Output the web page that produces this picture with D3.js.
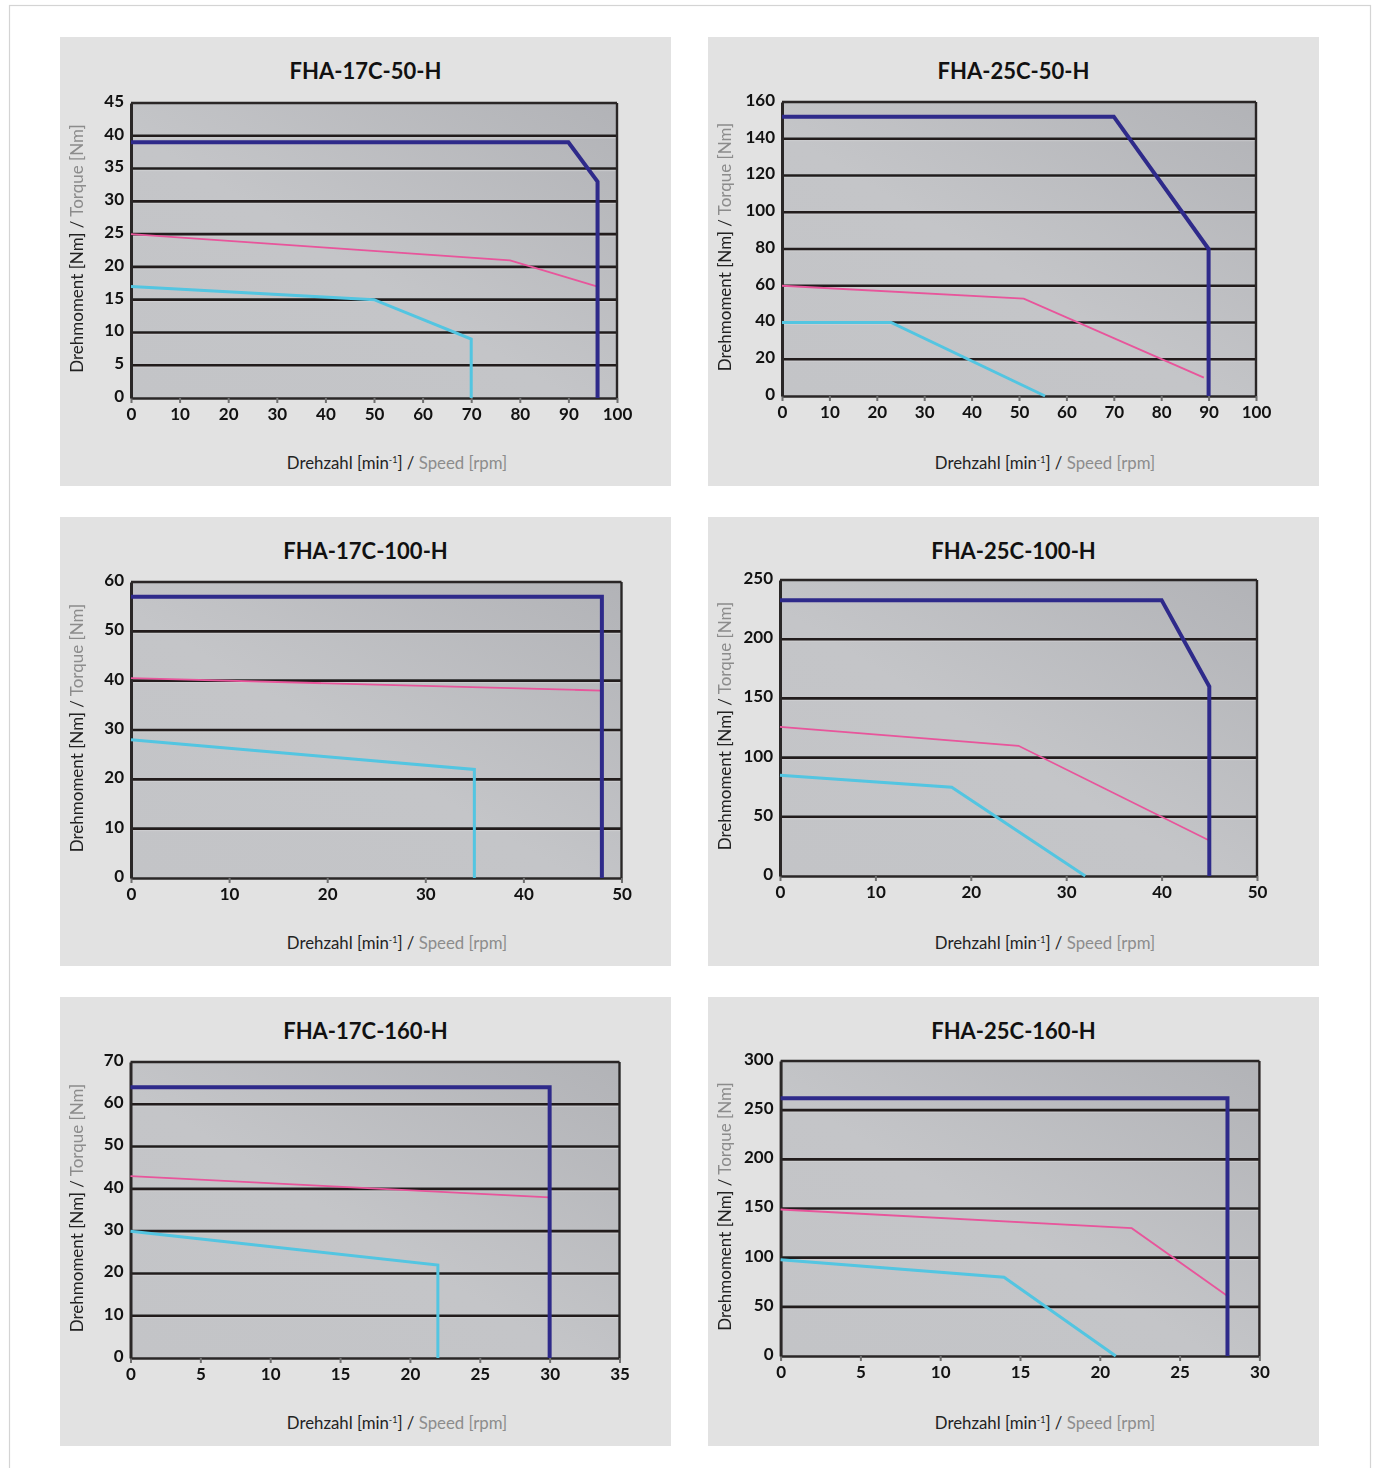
<!DOCTYPE html>
<html>
<head>
<meta charset="utf-8">
<script src="https://cdn.jsdelivr.net/npm/d3@7"></script>
<style>
  body { margin: 0; background: #fff; }
  svg { display: block; }
  text { font-family: Lato, "Noto Sans", sans-serif; }
</style>
</head>
<body>
<svg id="chart" width="1373" height="1468"></svg>
<script>
// Torque / speed characteristics of FHA-C actuators (speed in rpm, torque in Nm)
const titles = ["FHA-17C-50-H", "FHA-25C-50-H", "FHA-17C-100-H", "FHA-25C-100-H", "FHA-17C-160-H", "FHA-25C-160-H"];

const xTickValues = [
  [0, 10, 20, 30, 40, 50, 60, 70, 80, 90, 100],
  [0, 10, 20, 30, 40, 50, 60, 70, 80, 90, 100],
  [0, 10, 20, 30, 40, 50],
  [0, 10, 20, 30, 40, 50],
  [0, 5, 10, 15, 20, 25, 30, 35],
  [0, 5, 10, 15, 20, 25, 30]
];

const yTickValues = [
  [0, 5, 10, 15, 20, 25, 30, 35, 40, 45],
  [0, 20, 40, 60, 80, 100, 120, 140, 160],
  [0, 10, 20, 30, 40, 50, 60],
  [0, 50, 100, 150, 200, 250],
  [0, 10, 20, 30, 40, 50, 60, 70],
  [0, 50, 100, 150, 200, 250, 300]
];

// acceleration / deceleration range (peak torque)
const peakCurves = [
  [[0, 39], [90, 39], [96, 33], [96, 0]],
  [[0, 152], [70, 152], [90, 80], [90, 0]],
  [[0, 57], [48, 57], [48, 0]],
  [[0, 233], [40, 233], [45, 160], [45, 0]],
  [[0, 64], [30, 64], [30, 0]],
  [[0, 262], [28, 262], [28, 0]]
];

// intermittent duty range
const intermittentCurves = [
  [[0, 25], [78, 21], [96, 17]],
  [[0, 60], [51, 53], [89, 10]],
  [[0, 40.5], [48, 38]],
  [[0, 126], [25, 110], [45, 30]],
  [[0, 43], [30, 38]],
  [[0, 149], [22, 130], [28, 61]]
];

// continuous duty range
const continuousCurves = [
  [[0, 17], [50, 15], [70, 9], [70, 0]],
  [[0, 40], [23, 40], [55.5, 0]],
  [[0, 28], [35, 22], [35, 0]],
  [[0, 85], [18, 75], [32, 0]],
  [[0, 30], [22, 22], [22, 0]],
  [[0, 98], [14, 80], [21, 0]]
];

// ---- layout ----
const panelW = 611, panelH = 449;
const panelX = [60, 708];
const panelY = [37, 517, 997];
// plot rectangle inside each panel: [left, top, right, bottom]
const plotBoxes = [
  [71, 66, 557, 361],
  [74, 65, 548, 359],
  [71, 65, 561.5, 361],
  [72, 63, 549, 359],
  [70.5, 65, 559.5, 361],
  [72.6, 64, 551.4, 359]
];

const svg = d3.select("#chart");

// page frame
svg.append("rect")
  .attr("x", 9.5).attr("y", 5.5)
  .attr("width", 1361).attr("height", 1480)
  .attr("fill", "none").attr("stroke", "#d4d4d4").attr("stroke-width", 1.2);

const defs = svg.append("defs");
const grad = defs.append("linearGradient")
  .attr("id", "plotBg")
  .attr("x1", "100%").attr("y1", "0%")
  .attr("x2", "0%").attr("y2", "100%");
grad.append("stop").attr("offset", "0%").attr("stop-color", "#b2b3b7");
grad.append("stop").attr("offset", "55%").attr("stop-color", "#c4c5c8");
grad.append("stop").attr("offset", "100%").attr("stop-color", "#c3c4c7");

const soft = defs.append("filter").attr("id", "soft")
  .attr("x", "-5%").attr("y", "-5%").attr("width", "110%").attr("height", "110%");
soft.append("feGaussianBlur").attr("stdDeviation", 0.45);

titles.forEach((title, i) => {
  const px = panelX[i % 2], py = panelY[Math.floor(i / 2)];
  const [l, t, r, b] = plotBoxes[i];
  const xt = xTickValues[i], yt = yTickValues[i];

  const g = svg.append("g").attr("transform", `translate(${px},${py})`);
  g.append("rect").attr("width", panelW).attr("height", panelH).attr("fill", "#e2e2e2");

  const x = d3.scaleLinear().domain([0, d3.max(xt)]).range([l, r]);
  const y = d3.scaleLinear().domain([0, d3.max(yt)]).range([b, t]);

  // title
  g.append("text")
    .attr("x", panelW / 2).attr("y", 42)
    .attr("text-anchor", "middle")
    .attr("font-size", 22).attr("font-weight", 700).attr("fill", "#111")
    .text(title);

  // plot area
  g.append("rect")
    .attr("x", l).attr("y", t).attr("width", r - l).attr("height", b - t)
    .attr("fill", "url(#plotBg)");

  // horizontal grid lines
  const grid = g.append("g").attr("filter", "url(#soft)");
  grid.selectAll("line.hi")
    .data(yt.slice(1, -1))
    .join("line")
    .attr("x1", l).attr("x2", r)
    .attr("y1", d => y(d) + 2).attr("y2", d => y(d) + 2)
    .attr("stroke", "#d2d2d4").attr("stroke-width", 1.2).attr("opacity", 0.6);
  grid.selectAll("line.gl")
    .data(yt.slice(1, -1))
    .join("line")
    .attr("x1", l).attr("x2", r)
    .attr("y1", d => y(d)).attr("y2", d => y(d))
    .attr("stroke", "#241f1f").attr("stroke-width", 2.6);

  // frame: top and right border
  const frame = g.append("g").attr("filter", "url(#soft)");
  frame.append("line").attr("x1", l).attr("x2", r).attr("y1", t).attr("y2", t)
    .attr("stroke", "#2a2727").attr("stroke-width", 2.4);
  frame.append("line").attr("x1", r).attr("x2", r).attr("y1", t).attr("y2", b)
    .attr("stroke", "#2a2727").attr("stroke-width", 2.4);

  // x axis
  const xAxis = d3.axisBottom(x).tickValues(xt).tickSize(5).tickSizeOuter(0).tickPadding(5);
  const xa = g.append("g").attr("transform", `translate(0,${b})`).call(xAxis);
  xa.select(".domain").attr("stroke", "#2a2727").attr("stroke-width", 2.6);
  xa.selectAll(".tick line").attr("stroke", "#6f6f6f").attr("stroke-width", 2);
  xa.selectAll(".tick text")
    .attr("font-size", 17).attr("font-weight", 700).attr("fill", "#111")
    .attr("font-family", "Lato, 'Noto Sans', sans-serif");

  // y axis
  const yAxis = d3.axisLeft(y).tickValues(yt).tickSize(0).tickPadding(7);
  const ya = g.append("g").attr("transform", `translate(${l},0)`).call(yAxis);
  ya.select(".domain").attr("stroke", "#2a2727").attr("stroke-width", 3);
  ya.selectAll(".tick text")
    .attr("dy", "0.2em")
    .attr("font-size", 17).attr("font-weight", 700).attr("fill", "#111")
    .attr("font-family", "Lato, 'Noto Sans', sans-serif");

  // curves
  const line = d3.line().x(d => x(d[0])).y(d => y(d[1]));
  const curves = g.append("g").attr("filter", "url(#soft)")
    .attr("fill", "none").attr("stroke-linejoin", "miter");
  curves.append("path").datum(continuousCurves[i]).attr("d", line)
    .attr("stroke", "#52c5e1").attr("stroke-width", 3);
  curves.append("path").datum(intermittentCurves[i]).attr("d", line)
    .attr("stroke", "#e8549b").attr("stroke-width", 1.8);
  curves.append("path").datum(peakCurves[i]).attr("d", line)
    .attr("stroke", "#2f2a8a").attr("stroke-width", 4);

  // axis titles
  const xl = g.append("text")
    .attr("x", 337).attr("y", 432)
    .attr("text-anchor", "middle")
    .attr("font-size", 16.8).attr("fill", "#222");
  xl.append("tspan").text("Drehzahl [min");
  xl.append("tspan").attr("font-size", 9).attr("dy", -6).text("-1");
  xl.append("tspan").attr("dy", 6).text("] / ");
  xl.append("tspan").attr("fill", "#8c8c8c").text("Speed [rpm]");

  const yl = g.append("text")
    .attr("transform", `translate(23,${(t + b) / 2 - 2}) rotate(-90)`)
    .attr("text-anchor", "middle")
    .attr("font-size", 17).attr("fill", "#222");
  yl.append("tspan").text("Drehmoment [Nm] / ");
  yl.append("tspan").attr("fill", "#8c8c8c").text("Torque [Nm]");
});
</script>
</body>
</html>
